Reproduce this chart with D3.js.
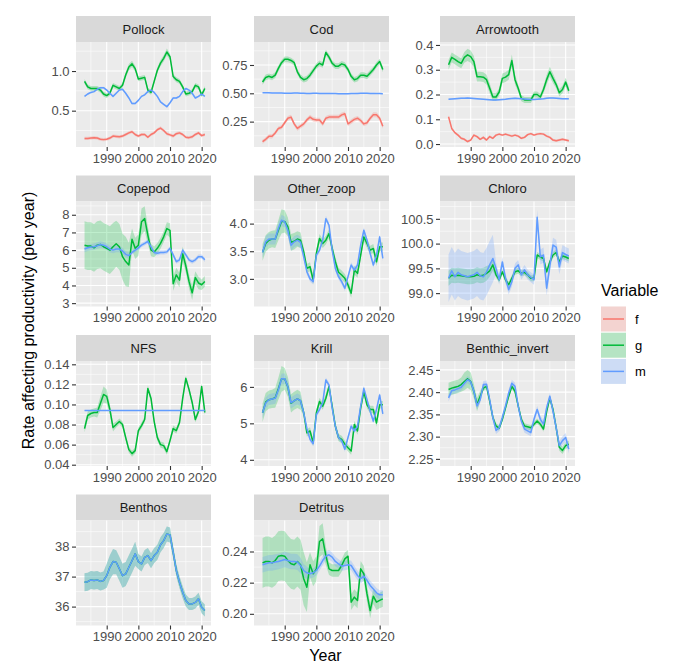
<!DOCTYPE html>
<html><head><meta charset="utf-8">
<script src="https://cdn.jsdelivr.net/npm/d3@7"></script>
<style>body{margin:0;background:#fff}svg{display:block}text{font-family:"Liberation Sans",Arial,sans-serif}</style>
</head><body><svg id="c" width="680" height="665"></svg>
<script>
const years = [1983,1984,1985,1986,1987,1988,1989,1990,1991,1992,1993,1994,1995,1996,1997,1998,1999,2000,2001,2002,2003,2004,2005,2006,2007,2008,2009,2010,2011,2012,2013,2014,2015,2016,2017,2018,2019,2020,2021];
const xTicks = [1990,2000,2010,2020];
const xMinor = [1985,1995,2005,2015];
const variables = ["f","g","m"];
const colors = {f:"#F8766D", g:"#00BA38", m:"#619CFF"};
const panelNames = ["Pollock","Cod","Arrowtooth","Copepod","Other_zoop","Chloro","NFS","Krill","Benthic_invert","Benthos","Detritus"];

// ---- Pollock ----
const pollock_f = [.15,.15,.155,.16,.155,.14,.135,.14,.155,.18, .175,.17,.18,.20,.22,.235,.20,.18,.20,.20, .165,.20,.22,.26,.28,.25,.21,.195,.18,.21, .22,.20,.165,.16,.17,.20,.22,.185,.20];
const pollock_g = [.87,.80,.78,.78,.78,.76,.71,.69,.72,.82, .80,.78,.82,.95,1.05,1.09,1.03,.90,.91,.92, .76,.73,.87,1.01,1.10,1.16,1.24,1.18,.93,.89, .87,.80,.71,.72,.74,.82,.80,.70,.78];
const pollock_m = [.68,.71,.73,.74,.77,.79,.79,.76,.72,.68, .72,.76,.77,.72,.66,.59,.59,.63,.68,.70, .74,.76,.73,.68,.61,.58,.55,.60,.66,.66, .68,.74,.78,.76,.72,.66,.68,.71,.68];
const pollock_f_se = [.02,.02,.02,.02,.02,.02,.02,.02,.02,.02, .02,.02,.02,.02,.02,.02,.02,.02,.02,.02, .02,.02,.02,.02,.025,.02,.02,.02,.02,.02, .02,.02,.02,.02,.02,.02,.02,.02,.02];
const pollock_g_se = [.03,.03,.03,.03,.03,.03,.03,.03,.03,.03, .03,.03,.03,.035,.04,.04,.035,.03,.03,.03, .03,.03,.03,.035,.04,.04,.045,.04,.03,.03, .03,.03,.03,.03,.03,.03,.03,.03,.03];
const pollock_m_se = [.012,.012,.012,.012,.012,.012,.012,.012,.012,.012, .012,.012,.012,.012,.012,.012,.012,.012,.012,.012, .012,.012,.012,.012,.012,.012,.012,.012,.012,.012, .012,.012,.012,.012,.012,.012,.012,.012,.012];

// ---- Cod ----
const cod_f = [.073,.094,.12,.12,.15,.19,.20,.24,.28,.29, .23,.19,.21,.23,.265,.29,.27,.265,.265,.23, .28,.29,.29,.29,.29,.31,.32,.23,.25,.27, .28,.26,.23,.24,.28,.31,.31,.28,.21];
const cod_g = [.60,.64,.65,.64,.66,.72,.77,.80,.80,.79, .77,.69,.64,.62,.63,.66,.70,.74,.765,.75, .86,.82,.765,.74,.74,.76,.75,.71,.65,.62, .63,.66,.66,.65,.68,.71,.75,.78,.71];
const cod_m = [.505,.505,.504,.503,.503,.502,.502,.501,.501,.501, .502,.502,.501,.500,.499,.499,.500,.500,.499,.499, .499,.499,.498,.498,.497,.497,.496,.497,.498,.498, .499,.500,.501,.500,.499,.499,.498,.498,.497];
const cod_f_se = [.018,.018,.018,.018,.018,.018,.018,.018,.02,.02, .02,.02,.02,.02,.02,.02,.02,.02,.02,.02, .02,.02,.02,.02,.02,.02,.02,.02,.02,.02, .02,.02,.02,.02,.02,.022,.022,.022,.022];
const cod_g_se = [.025,.025,.025,.025,.025,.025,.025,.025,.025,.025, .025,.025,.025,.025,.025,.025,.025,.025,.025,.025, .025,.025,.025,.025,.025,.025,.025,.025,.025,.025, .025,.025,.025,.025,.025,.025,.025,.025,.025];
const cod_m_se = [.005,.005,.005,.005,.005,.005,.005,.005,.005,.005, .005,.005,.005,.005,.005,.005,.005,.005,.005,.005, .005,.005,.005,.005,.005,.005,.005,.005,.005,.005, .005,.005,.005,.005,.005,.005,.005,.005,.005];

// ---- Arrowtooth ----
const arrow_f = [.11,.063,.046,.036,.023,.019,.010,.016,.036,.030, .019,.027,.016,.030,.023,.036,.040,.036,.040,.036, .032,.036,.032,.023,.027,.038,.042,.036,.040,.042, .040,.032,.027,.016,.013,.016,.019,.016,.013];
const arrow_g = [.32,.35,.342,.333,.326,.35,.36,.353,.333,.272, .272,.27,.26,.225,.19,.19,.21,.265,.27,.28, .337,.26,.225,.185,.178,.178,.178,.20,.20,.19, .22,.26,.292,.265,.24,.207,.22,.25,.215];
const arrow_m = [.181,.182,.183,.184,.185,.185,.186,.185,.184,.183, .182,.181,.180,.179,.178,.178,.179,.180,.181,.183, .184,.185,.184,.183,.182,.181,.180,.180,.181,.182, .183,.185,.186,.186,.185,.184,.183,.183,.183];
const arrow_f_se = [.006,.005,.005,.005,.005,.005,.005,.005,.005,.005, .005,.005,.005,.005,.005,.005,.005,.005,.005,.005, .005,.005,.005,.005,.005,.005,.005,.005,.005,.005, .005,.005,.005,.005,.005,.005,.005,.005,.005];
const arrow_g_se = [.02,.02,.02,.02,.02,.022,.025,.025,.022,.02, .02,.02,.02,.02,.015,.015,.015,.02,.02,.02, .025,.02,.015,.012,.012,.012,.012,.012,.012,.012, .015,.02,.02,.02,.015,.015,.015,.018,.015];
const arrow_m_se = [.003,.003,.003,.003,.003,.003,.003,.003,.003,.003, .003,.003,.003,.003,.003,.003,.003,.003,.003,.003, .003,.003,.003,.003,.003,.003,.003,.003,.003,.003, .003,.003,.003,.003,.003,.003,.003,.003,.003];

// ---- Copepod ----
const copepod_g = [6.28,6.23,6.23,6.13,6.28,6.32,6.19,6.10,6.00,6.19, 6.36,6.19,5.63,5.35,5.16,6.62,6.10,6.28,7.60,7.78, 6.84,6.00,5.90,6.10,6.38,6.75,7.22,7.12,4.10,4.60, 4.30,5.80,5.10,4.23,3.58,4.45,4.14,4.04,4.23];
const copepod_m = [6.06,6.13,6.17,6.19,6.25,6.32,6.28,6.19,6.06,6.00, 6.06,6.06,5.95,5.76,5.69,5.87,6.00,6.13,6.28,6.38, 6.50,6.19,5.87,5.82,5.87,5.87,5.90,6.10,5.73,5.35, 5.45,6.00,5.73,5.45,5.35,5.45,5.63,5.63,5.45];
const copepod_g_se = [1.35,1.35,1.35,1.35,1.35,1.35,1.35,1.35,1.35,1.35, 1.3,1.3,1.3,1.4,1.25,.6,.6,.6,.75,.7, .5,.35,.3,.3,.3,.3,.35,.4,.4,.4, .4,.4,.4,.4,.4,.35,.35,.3,.3];
const copepod_m_se = [.18,.18,.18,.18,.18,.18,.18,.18,.18,.18, .18,.18,.18,.18,.18,.12,.12,.12,.12,.12, .12,.12,.12,.12,.12,.12,.12,.12,.12,.12, .12,.12,.12,.12,.12,.12,.12,.12,.12];

// ---- Other_zoop ----
const zoop_g = [3.48,3.64,3.70,3.72,3.72,3.88,4.04,4.04,3.94,3.66, 3.68,3.72,3.70,3.49,3.19,3.22,2.98,3.46,3.73,3.64, 3.70,3.82,3.55,3.31,3.12,3.07,3.01,2.89,2.74,3.16, 3.10,3.43,3.76,3.64,3.52,3.55,3.31,3.58,3.58];
const zoop_m = [3.48,3.67,3.72,3.72,3.72,3.91,4.06,4.03,3.88,3.61, 3.67,3.70,3.66,3.40,3.13,3.00,2.95,3.43,3.52,3.70, 4.09,3.97,3.52,3.19,3.04,2.95,2.83,3.04,3.25,3.16, 3.25,3.61,3.88,3.70,3.46,3.25,3.43,3.76,3.37];
const zoop_g_se = [.15,.15,.15,.15,.16,.18,.22,.2,.17,.15, .15,.14,.14,.08,.08,.08,.08,.08,.08,.08, .08,.08,.08,.08,.08,.08,.08,.08,.08,.08, .08,.08,.08,.08,.08,.08,.08,.08,.08];
const zoop_m_se = [.1,.1,.1,.1,.1,.1,.1,.1,.1,.1, .1,.1,.1,.05,.05,.05,.05,.05,.05,.05, .05,.05,.05,.05,.05,.05,.05,.05,.05,.05, .05,.05,.05,.05,.05,.05,.05,.05,.05];

// ---- Chloro ----
const chloro_g = [99.30,99.36,99.35,99.36,99.35,99.34,99.33,99.33,99.34,99.37, 99.35,99.36,99.40,99.45,99.57,99.37,99.27,99.43,99.27,99.17, 99.30,99.43,99.45,99.40,99.42,99.37,99.30,99.30,99.77,99.73, 99.70,99.43,99.63,99.77,99.82,99.63,99.75,99.73,99.70];
const chloro_m = [99.30,99.45,99.33,99.42,99.37,99.35,99.33,99.35,99.37,99.42, 99.35,99.33,99.43,99.57,99.70,99.50,99.27,99.63,99.30,99.07, 99.23,99.50,99.57,99.37,99.47,99.37,99.32,99.27,100.53,99.73, 99.77,99.10,99.55,99.97,99.93,99.53,99.82,99.78,99.75];
const chloro_g_se = [.15,.15,.15,.15,.15,.15,.15,.15,.15,.15, .15,.15,.15,.12,.12,.06,.06,.06,.06,.06, .06,.06,.06,.06,.06,.06,.06,.06,.06,.06, .06,.06,.06,.06,.06,.06,.06,.06,.06];
const chloro_m_se = [.48,.48,.48,.48,.48,.48,.48,.48,.48,.48, .48,.48,.48,.48,.48,.12,.1,.1,.1,.1, .1,.1,.1,.1,.1,.1,.1,.1,.15,.15, .15,.15,.15,.15,.15,.15,.15,.15,.15];

// ---- NFS ----
const nfs_g = [.076,.089,.091,.092,.092,.101,.110,.108,.095,.077, .080,.083,.080,.067,.055,.051,.054,.074,.079,.085, .116,.106,.083,.067,.060,.059,.053,.064,.076,.074, .082,.106,.126,.115,.102,.085,.093,.118,.092];
const nfs_m = [.094,.094,.094,.094,.094,.094,.094,.094,.094,.094, .094,.094,.094,.094,.094,.094,.094,.094,.094,.094, .094,.094,.094,.094,.094,.094,.094,.094,.094,.094, .094,.094,.094,.094,.094,.094,.094,.094,.094];
const nfs_g_se = [.004,.004,.004,.004,.005,.007,.008,.007,.005,.004, .003,.003,.003,.003,.003,.003,.003,.003,.003,.003, .003,.003,.003,.003,.003,.003,.003,.003,.003,.003, .003,.003,.003,.003,.003,.003,.003,.003,.003];
const nfs_m_se = [.0005,.0005,.0005,.0005,.0005,.0005,.0005,.0005,.0005,.0005, .0005,.0005,.0005,.0005,.0005,.0005,.0005,.0005,.0005,.0005, .0005,.0005,.0005,.0005,.0005,.0005,.0005,.0005,.0005,.0005, .0005,.0005,.0005,.0005,.0005,.0005,.0005,.0005,.0005];

// ---- Krill ----
const krill_g = [5.29,5.58,5.65,5.67,5.70,5.95,6.22,6.22,6.00,5.55, 5.62,5.67,5.62,5.30,4.74,4.79,4.47,5.29,5.60,5.47, 5.69,6.01,5.47,4.92,4.61,4.56,4.43,4.33,4.24,4.97, 4.79,5.42,5.87,5.51,5.38,5.38,5.01,5.51,5.51];
const krill_m = [5.29,5.56,5.65,5.67,5.69,5.92,6.22,6.22,6.01,5.56, 5.62,5.67,5.62,5.29,4.86,4.56,4.44,5.24,5.38,5.56, 6.19,6.05,5.42,4.92,4.61,4.52,4.29,4.61,4.92,4.79, 4.92,5.47,5.96,5.65,5.33,5.06,5.38,5.78,5.26];
const krill_g_se = [.25,.25,.25,.25,.27,.3,.35,.3,.27,.25, .25,.25,.25,.1,.1,.1,.1,.1,.1,.1, .1,.1,.1,.1,.1,.1,.1,.1,.1,.1, .1,.1,.1,.1,.1,.1,.1,.1,.1];
const krill_m_se = [.15,.15,.15,.15,.15,.15,.15,.15,.15,.15, .15,.15,.15,.07,.07,.07,.07,.07,.07,.07, .07,.07,.07,.07,.07,.07,.07,.07,.07,.07, .07,.07,.07,.07,.07,.07,.07,.07,.07];

// ---- Benthic_invert ----
const binv_g = [2.406,2.409,2.411,2.413,2.417,2.424,2.430,2.424,2.402,2.372, 2.391,2.409,2.413,2.380,2.343,2.324,2.319,2.339,2.365,2.391, 2.413,2.402,2.369,2.339,2.324,2.322,2.320,2.328,2.335,2.328, 2.317,2.357,2.387,2.361,2.320,2.276,2.269,2.280,2.283];
const binv_m = [2.387,2.403,2.405,2.408,2.411,2.420,2.428,2.423,2.402,2.369, 2.383,2.417,2.418,2.383,2.343,2.314,2.320,2.343,2.369,2.398, 2.420,2.413,2.369,2.335,2.317,2.313,2.309,2.339,2.361,2.339, 2.328,2.365,2.391,2.357,2.320,2.280,2.291,2.298,2.272];
const binv_g_se = [.015,.015,.015,.015,.016,.02,.02,.02,.016,.015, .012,.006,.006,.006,.006,.006,.006,.006,.006,.006, .006,.006,.006,.006,.006,.006,.006,.006,.006,.006, .006,.006,.006,.006,.006,.008,.008,.008,.008];
const binv_m_se = [.008,.008,.008,.008,.008,.008,.008,.008,.008,.008, .008,.008,.008,.008,.008,.008,.008,.008,.008,.008, .008,.008,.008,.008,.008,.008,.008,.008,.008,.008, .008,.008,.008,.008,.008,.01,.01,.01,.01];

// ---- Benthos (g and m coincide) ----
const benthos_gm = [36.81,36.83,36.89,36.87,36.89,36.84,36.87,37.03,37.31,37.50, 37.48,37.26,37.03,37.09,37.31,37.53,37.76,37.50,37.42,37.64, 37.70,37.53,37.70,37.81,38.06,38.20,38.42,38.39,37.81,37.20, 36.81,36.48,36.20,36.09,36.09,36.14,36.26,35.98,35.87];
const benthos_se = [.3,.3,.3,.3,.3,.3,.3,.4,.4,.42, .4,.4,.4,.4,.4,.4,.4,.25,.25,.25, .25,.25,.25,.25,.25,.25,.25,.25,.2,.2, .2,.2,.2,.2,.2,.2,.2,.2,.2];

// ---- Detritus ----
const det_g = [.2327,.2336,.2336,.2327,.2342,.2370,.2374,.2370,.2342,.2321, .2315,.2336,.2315,.2225,.2171,.2315,.2257,.2289,.2464,.2481, .2374,.2289,.2278,.2278,.2278,.2310,.2353,.2370,.2075,.2107, .2086,.2289,.2257,.2128,.2021,.2113,.2075,.2086,.2096];
const det_m = [.2315,.2321,.2327,.2327,.2332,.2336,.2342,.2349,.2342,.2336, .2336,.2332,.2310,.2278,.2263,.2257,.2263,.2278,.2306,.2342, .2370,.2379,.2364,.2336,.2321,.2306,.2310,.2315,.2310,.2278, .2246,.2225,.2242,.2215,.2182,.2160,.2135,.2122,.2122];
const det_g_se = [.016,.016,.016,.016,.016,.016,.016,.016,.016,.016, .016,.016,.016,.017,.016,.008,.008,.008,.01,.01, .006,.004,.004,.004,.004,.004,.004,.004,.005,.005, .005,.005,.005,.005,.005,.005,.005,.005,.005];
const det_m_se = [.005,.005,.005,.005,.005,.005,.005,.005,.005,.005, .005,.005,.005,.004,.004,.003,.003,.003,.003,.003, .003,.003,.003,.003,.003,.003,.003,.003,.003,.003, .003,.003,.003,.003,.003,.003,.003,.003,.003];

// ---- y axis settings per panel ----
const yDomains = [[0.042,1.366],[0.026,0.953],[-0.012,0.412],[2.81,8.75],[2.50,4.40],[98.73,100.85],[0.0387,0.1433],[3.83,6.71],[2.234,2.47],[35.37,38.87],[0.1925,0.2599]];
const yTicks = [[0.5,1.0],[0.25,0.5,0.75],[0,0.1,0.2,0.3,0.4],[3,4,5,6,7,8],[3.0,3.5,4.0],[99.0,99.5,100.0,100.5],[0.04,0.06,0.08,0.10,0.12,0.14],[4,5,6],[2.25,2.30,2.35,2.40,2.45],[36,37,38],[0.20,0.22,0.24]];
const yFormats = [".1f",".2f",".1f","d",".1f",".1f",".2f","d",".2f","d",".2f"];

// series table built from the arrays above
const panelSeries = [
  [["f",pollock_f,pollock_f_se],["g",pollock_g,pollock_g_se],["m",pollock_m,pollock_m_se]],
  [["f",cod_f,cod_f_se],["g",cod_g,cod_g_se],["m",cod_m,cod_m_se]],
  [["f",arrow_f,arrow_f_se],["g",arrow_g,arrow_g_se],["m",arrow_m,arrow_m_se]],
  [["g",copepod_g,copepod_g_se],["m",copepod_m,copepod_m_se]],
  [["g",zoop_g,zoop_g_se],["m",zoop_m,zoop_m_se]],
  [["g",chloro_g,chloro_g_se],["m",chloro_m,chloro_m_se]],
  [["g",nfs_g,nfs_g_se],["m",nfs_m,nfs_m_se]],
  [["g",krill_g,krill_g_se],["m",krill_m,krill_m_se]],
  [["g",binv_g,binv_g_se],["m",binv_m,binv_m_se]],
  [["g",benthos_gm,benthos_se],["m",benthos_gm,benthos_se]],
  [["g",det_g,det_g_se],["m",det_m,det_m_se]]
];

// ---- drawing ----
const svg = d3.select("#c");
const colLeft = [76, 254, 440], panelW = 135;
const rowTop = [16, 175.5, 335, 494.5], stripH = 26, panelH = 105;
const FS = 13;
const RIB_ALPHA = 0.25;
const x = d3.scaleLinear().domain([1980.3, 2022.95]).range([0, panelW]);

panelNames.forEach((name, i) => {
  const c = i % 3, r = Math.floor(i / 3);
  const g = svg.append("g").attr("transform", `translate(${colLeft[c]},${rowTop[r]})`);
  g.append("rect").attr("width", panelW).attr("height", stripH).attr("fill", "#D9D9D9");
  g.append("text").attr("x", panelW / 2).attr("y", stripH / 2).attr("dy", "0.36em")
    .attr("text-anchor", "middle").attr("font-size", FS).attr("fill", "#1A1A1A").text(name);

  const pg = g.append("g").attr("transform", `translate(0,${stripH})`);
  const y = d3.scaleLinear().domain(yDomains[i]).range([panelH, 0]);
  pg.append("rect").attr("width", panelW).attr("height", panelH).attr("fill", "#EBEBEB");

  // minor grid
  const t = yTicks[i], step = t[1] - t[0];
  const yMinor = [];
  for (let k = -1; k < t.length; k++) {
    const v = t[0] + (k + 0.5) * step;
    if (v > yDomains[i][0] && v < yDomains[i][1]) yMinor.push(v);
  }
  pg.selectAll(".ymin").data(yMinor).enter().append("line")
    .attr("x1", 0).attr("x2", panelW).attr("y1", d => y(d)).attr("y2", d => y(d))
    .attr("stroke", "#fff").attr("stroke-width", 0.55);
  pg.selectAll(".xmin").data(xMinor).enter().append("line")
    .attr("y1", 0).attr("y2", panelH).attr("x1", d => x(d)).attr("x2", d => x(d))
    .attr("stroke", "#fff").attr("stroke-width", 0.55);
  pg.selectAll(".ymaj").data(t).enter().append("line")
    .attr("x1", 0).attr("x2", panelW).attr("y1", d => y(d)).attr("y2", d => y(d))
    .attr("stroke", "#fff").attr("stroke-width", 1.1);
  pg.selectAll(".xmaj").data(xTicks).enter().append("line")
    .attr("y1", 0).attr("y2", panelH).attr("x1", d => x(d)).attr("x2", d => x(d))
    .attr("stroke", "#fff").attr("stroke-width", 1.1);

  const series = panelSeries[i];
  const clip = "clip" + i;
  pg.append("clipPath").attr("id", clip).append("rect").attr("width", panelW).attr("height", panelH);
  const content = pg.append("g").attr("clip-path", `url(#${clip})`);
  const area = d3.area().x((d, j) => x(years[j])).y0(d => y(d[0] - d[1])).y1(d => y(d[0] + d[1]));
  const line = d3.line().x((d, j) => x(years[j])).y(d => y(d));
  series.forEach(([v, vals, se]) => {
    content.append("path").datum(vals.map((d, j) => [d, se[j]]))
      .attr("d", area).attr("fill", colors[v]).attr("fill-opacity", RIB_ALPHA);
  });
  series.forEach(([v, vals]) => {
    content.append("path").datum(vals).attr("d", line)
      .attr("fill", "none").attr("stroke", colors[v]).attr("stroke-width", 1.5)
      .attr("stroke-linejoin", "round");
  });

  // axes
  const ya = pg.append("g").call(d3.axisLeft(y).tickValues(t).tickFormat(d3.format(yFormats[i])).tickSize(4).tickPadding(2.5));
  const xa = pg.append("g").attr("transform", `translate(0,${panelH})`)
    .call(d3.axisBottom(x).tickValues(xTicks).tickFormat(d3.format("d")).tickSize(4).tickPadding(2.5));
  [ya, xa].forEach(a => {
    a.select(".domain").remove();
    a.selectAll(".tick line").attr("stroke", "#333333").attr("stroke-width", 1.1);
    a.selectAll(".tick text").attr("fill", "#4D4D4D").attr("font-size", FS)
      .attr("font-family", '"Liberation Sans",Arial,sans-serif');
  });
});

// axis titles
svg.append("text").attr("transform", "rotate(-90)").attr("x", -320.5).attr("y", 34)
  .attr("text-anchor", "middle").attr("font-size", 16).attr("fill", "#000")
  .text("Rate affecting productivity (per year)");
svg.append("text").attr("x", 325.5).attr("y", 661).attr("text-anchor", "middle")
  .attr("font-size", 16).attr("fill", "#000").text("Year");

// legend
const lg = svg.append("g").attr("transform", "translate(601,0)");
lg.append("text").attr("x", 0).attr("y", 296).attr("font-size", 16).attr("fill", "#000").text("Variable");
variables.forEach((v, k) => {
  const ky = 306.5 + k * 26.2;
  lg.append("rect").attr("x", 0).attr("y", ky).attr("width", 25).attr("height", 25).attr("fill", "#F2F2F2");
  lg.append("rect").attr("x", 0).attr("y", ky).attr("width", 25).attr("height", 25)
    .attr("fill", colors[v]).attr("fill-opacity", RIB_ALPHA);
  lg.append("line").attr("x1", 2).attr("x2", 23).attr("y1", ky + 12.5).attr("y2", ky + 12.5)
    .attr("stroke", colors[v]).attr("stroke-width", 1.5);
  lg.append("text").attr("x", 34).attr("y", ky + 12.5).attr("dy", "0.36em")
    .attr("font-size", FS).attr("fill", "#000").text(v);
});
</script></body></html>
